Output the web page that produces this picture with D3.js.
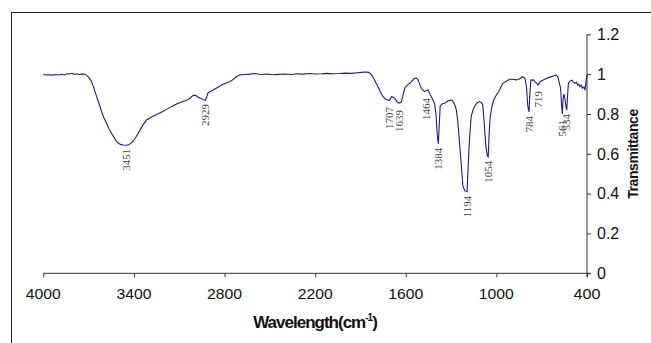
<!DOCTYPE html>
<html><head><meta charset="utf-8">
<script src="https://cdn.jsdelivr.net/npm/d3@7"></script>
<style>body{margin:0;background:#fff;}svg{display:block;}</style>
</head><body>
<svg id="chart" width="651" height="343"></svg>
<script>
// ---- data ----
const wavenumbers = [4000,3980,3960,3940,3920,3900,3880,3860,3840,3825,3810,3795,3780,3760,3740,3725,3712,3700,3690,3680,3665,3647,3630,3614,3598,3581,3565,3548,3530,3515,3500,3485,3471,3451,3435,3420,3405,3393,3375,3360,3340,3316,3290,3270,3250,3215,3184,3150,3118,3085,3052,3030,3008,2990,2975,2955,2940,2929,2918,2908,2895,2875,2850,2820,2790,2765,2740,2720,2699,2670,2633,2600,2560,2520,2480,2440,2400,2360,2320,2280,2240,2200,2160,2120,2080,2040,2000,1960,1920,1880,1850,1839,1820,1800,1780,1765,1751,1735,1718,1707,1695,1685,1673,1660,1652,1639,1629,1618,1607,1590,1574,1560,1542,1530,1520,1508,1497,1485,1475,1464,1453,1440,1431,1420,1409,1400,1392,1384,1378,1372,1360,1340,1320,1305,1290,1275,1265,1255,1244,1232,1222,1210,1194,1189,1180,1167,1155,1145,1128,1112,1100,1090,1080,1070,1060,1054,1048,1041,1030,1018,1000,985,970,957,935,913,892,868,848,826,810,800,792,784,778,772,755,740,733,725,716,711,690,667,645,623,605,592,583,575,568,563,558,552,545,538,534,528,523,512,501,490,479,470,462,455,446,438,430,420,413,407,402,400];
const transmittance = [0.998,0.996,0.997,0.995,0.998,0.996,0.999,0.996,1.003,1.001,1.004,0.999,1.002,0.998,1.001,0.999,0.994,0.985,0.975,0.962,0.93,0.887,0.85,0.811,0.78,0.753,0.725,0.702,0.68,0.662,0.652,0.646,0.644,0.643,0.645,0.652,0.664,0.677,0.698,0.719,0.745,0.77,0.782,0.79,0.797,0.81,0.823,0.838,0.85,0.86,0.869,0.878,0.894,0.892,0.884,0.878,0.872,0.868,0.885,0.908,0.912,0.92,0.932,0.945,0.955,0.962,0.975,0.988,0.996,0.998,1.0,1.003,0.998,1.001,0.997,0.999,1.001,0.998,1.002,1.0,1.003,1.001,1.002,1.004,1.002,1.003,1.005,1.004,1.007,1.01,1.01,1.006,0.99,0.96,0.93,0.905,0.888,0.875,0.87,0.868,0.887,0.885,0.878,0.862,0.857,0.855,0.862,0.895,0.929,0.945,0.954,0.965,0.979,0.98,0.974,0.95,0.929,0.918,0.912,0.918,0.921,0.9,0.887,0.87,0.852,0.8,0.7,0.65,0.75,0.84,0.85,0.855,0.865,0.87,0.868,0.845,0.82,0.76,0.653,0.54,0.44,0.415,0.41,0.5,0.65,0.786,0.82,0.837,0.855,0.862,0.858,0.845,0.75,0.64,0.59,0.585,0.7,0.786,0.835,0.87,0.895,0.912,0.935,0.954,0.964,0.974,0.974,0.971,0.976,0.987,0.978,0.93,0.84,0.81,0.9,0.97,0.971,0.958,0.955,0.945,0.955,0.962,0.97,0.979,0.985,0.991,0.996,0.985,0.954,0.93,0.84,0.80,0.88,0.9,0.87,0.83,0.82,0.9,0.954,0.965,0.97,0.96,0.954,0.96,0.945,0.95,0.937,0.945,0.93,0.935,0.92,0.96,0.99,0.998];
const peakLabels = ["3451","2929","1707","1639","1464","1384","1194","1054","784","719","561","534"];
const peakWavenumbers = [3451,2929,1707,1639,1464,1384,1194,1054,784,719,561,534];
const peakTroughs = [0.645,0.87,0.855,0.84,0.9,0.65,0.41,0.585,0.81,0.935,0.79,0.82];
const xTicks = [4000,3400,2800,2200,1600,1000,400];
const yTicks = [0,0.2,0.4,0.6,0.8,1,1.2];
const xTitle = "Wavelength(cm";
const xTitleSup = "-1";
const yTitle = "Transmittance";

// ---- chart ----
const svg = d3.select("#chart");
svg.append("rect").attr("x",11.5).attr("y",12.5).attr("width",700).attr("height",400)
  .attr("fill","none").attr("stroke","#222").attr("stroke-width",1);

const x = d3.scaleLinear().domain([4000,400]).range([43.3,587]);
const y = d3.scaleLinear().domain([0,1.2]).range([273.3,34.3]);

const axisColor = "#333";
// x axis
const gx = svg.append("g").attr("transform","translate(0,273.3)");
gx.call(d3.axisBottom(x).tickValues(xTicks).tickSize(4).tickSizeOuter(0).tickFormat(""));
gx.selectAll("path,line").attr("stroke",axisColor);
gx.select(".domain").attr("d","M43.3,0H590");
svg.append("g").selectAll("text").data(xTicks).join("text")
  .attr("x",d=>x(d)).attr("y",299)
  .attr("text-anchor","middle")
  .attr("font-family","'Liberation Sans', Arial, sans-serif")
  .attr("font-size",15).attr("fill","#111")
  .attr("textLength",d=>String(d).length===4?35:27).attr("lengthAdjust","spacingAndGlyphs")
  .text(d=>d);

// y axis (right)
const gy = svg.append("g").attr("transform","translate(587,0)");
gy.call(d3.axisRight(y).tickValues(yTicks).tickSize(4).tickSizeOuter(0).tickFormat(""));
gy.selectAll("path,line").attr("stroke",axisColor);
gy.select(".domain").attr("d","M0,34.3V277");
svg.append("g").selectAll("text").data(yTicks).join("text")
  .attr("x",597).attr("y",d=>y(d)).attr("dy","0.36em")
  .attr("font-family","'Liberation Sans', Arial, sans-serif")
  .attr("font-size",16).attr("fill","#111")
  .text(d=>d);

// titles
const t = svg.append("text").attr("x",315).attr("y",328).attr("text-anchor","middle")
  .attr("font-family","'Liberation Sans', Arial, sans-serif").attr("font-weight","bold")
  .attr("font-size",17).attr("letter-spacing","-1").attr("fill","#111");
t.append("tspan").text(xTitle);
t.append("tspan").attr("dy",-7).attr("font-size",10).text(xTitleSup);
t.append("tspan").attr("dy",7).text(")");

svg.append("text").attr("transform","translate(638,154) rotate(-90)").attr("text-anchor","middle")
  .attr("font-family","'Liberation Sans', Arial, sans-serif").attr("font-weight","bold")
  .attr("font-size",14).attr("letter-spacing","-0.4").attr("fill","#111").text(yTitle);

// spectrum
const pts = wavenumbers.map((w,i)=>[w,transmittance[i]]);
svg.append("path").datum(pts)
  .attr("d",d3.line().x(d=>x(d[0])).y(d=>y(d[1])))
  .attr("fill","none").attr("stroke","#1c1c92").attr("stroke-width",1.1);

// peak labels
svg.append("g").selectAll("text").data(peakLabels).join("text")
  .attr("transform",(d,i)=>`translate(${x(peakWavenumbers[i])+3.6},${y(peakTroughs[i])+4}) rotate(-90)`)
  .attr("text-anchor","end")
  .attr("font-family","'Liberation Serif', 'Times New Roman', serif")
  .attr("font-size",11).attr("fill","#444")
  .text(d=>d);
</script>
</body></html>
